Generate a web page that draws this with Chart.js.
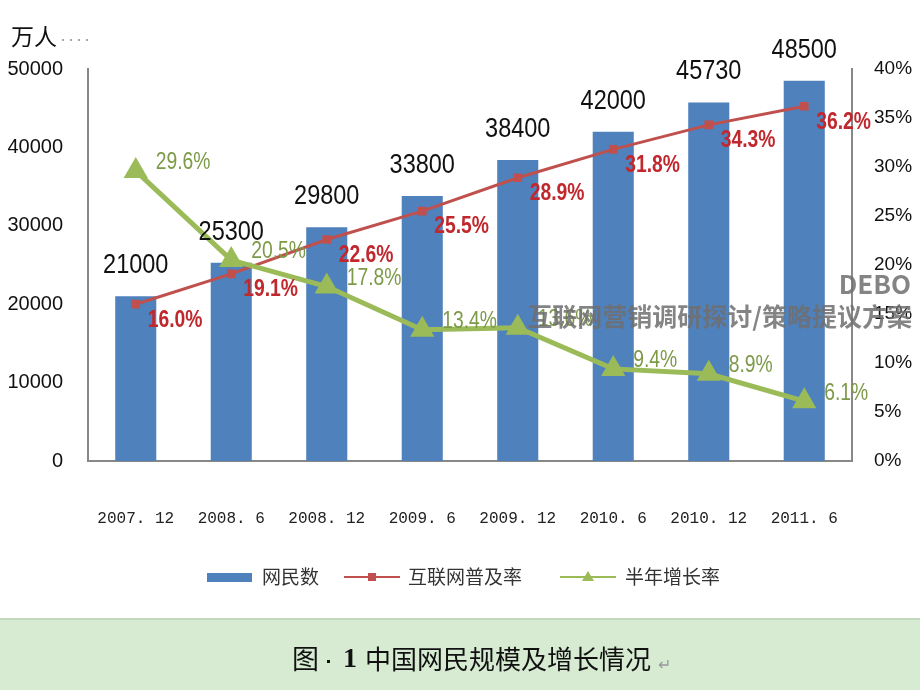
<!DOCTYPE html>
<html>
<head>
<meta charset="utf-8">
<script src="https://cdn.jsdelivr.net/npm/chart.js@4"></script>
<style>
  html, body { margin: 0; padding: 0; background: #fff; }
  #wrap { width: 920px; height: 690px; position: relative; }
</style>
</head>
<body>
<div id="wrap"><canvas id="netChart" width="920" height="690"></canvas></div>
<script>
// data
const periods = ['2007.12', '2008.6', '2008.12', '2009.6', '2009.12', '2010.6', '2010.12', '2011.6'];
const netizens = [21000, 25300, 29800, 33800, 38400, 42000, 45730, 48500];
const penetration = [16.0, 19.1, 22.6, 25.5, 28.9, 31.8, 34.3, 36.2];
const halfYearGrowth = [29.6, 20.5, 17.8, 13.4, 13.6, 9.4, 8.9, 6.1];
const leftTicks = [0, 10000, 20000, 30000, 40000, 50000];
const rightTicks = [0, 5, 10, 15, 20, 25, 30, 35, 40];

const SANS = "'Liberation Sans', Arial, sans-serif";
const CJK = "'Noto Sans CJK SC', 'Noto Sans', sans-serif";

const BLUE = '#4f81bd';
const RED = '#c0504d';
const GREEN = '#9bbb59';

// draws narrow-looking text by squeezing it horizontally
function narrowText(ctx, text, x, y, align) {
    const sx = 0.84;
    ctx.save();
    ctx.translate(x, y);
    ctx.scale(sx, 1);
    ctx.textAlign = align;
    ctx.fillText(text, 0, 0);
    ctx.restore();
}

// value labels next to bars and points
const valueLabels = {
    id: 'valueLabels',
    afterDatasetsDraw(chart) {
        const ctx = chart.ctx;
        ctx.save();
        chart.data.datasets.forEach((ds, i) => {
            const meta = chart.getDatasetMeta(i);
            if (meta.hidden) return;
            meta.data.forEach((el, idx) => {
                const v = ds.data[idx];
                if (ds.type === 'bar') {
                    ctx.font = '28px ' + SANS;
                    ctx.fillStyle = '#111';
                    ctx.textBaseline = 'alphabetic';
                    narrowText(ctx, String(v), el.x, el.y - 23, 'center');
                } else if (ds.order === 2) {
                    ctx.font = 'bold 23px ' + SANS;
                    ctx.fillStyle = '#c0282d';
                    ctx.textBaseline = 'middle';
                    narrowText(ctx, v.toFixed(1) + '%', el.x + 12, el.y + 16, 'left');
                } else {
                    ctx.font = '23px ' + SANS;
                    ctx.fillStyle = '#7d9a48';
                    ctx.textBaseline = 'middle';
                    narrowText(ctx, v.toFixed(1) + '%', el.x + 20, el.y - 8, 'left');
                }
            });
        });
        ctx.restore();
    }
};

// page furniture: unit label, legend, caption band, watermark text
const decor = {
    id: 'decor',
    beforeDraw(chart) {
        const ctx = chart.ctx;
        ctx.save();
        ctx.fillStyle = '#fff';
        ctx.fillRect(0, 0, 920, 690);
        ctx.fillStyle = '#d6ebd2';
        ctx.fillRect(0, 619, 920, 71);
        ctx.fillStyle = '#c3d9be';
        ctx.fillRect(0, 618, 920, 2);
        ctx.restore();
    },
    afterDraw(chart) {
        const ctx = chart.ctx;
        ctx.save();
        // unit
        ctx.fillStyle = '#111';
        ctx.font = '23px ' + CJK;
        ctx.textAlign = 'left';
        ctx.textBaseline = 'middle';
        ctx.fillText('万人', 11, 36);
        ctx.fillStyle = '#aaa';
        for (let k = 0; k < 4; k++) ctx.fillRect(62 + k * 8, 39, 2, 2);

        // legend
        const ly = 577;
        ctx.font = '19px ' + CJK;
        ctx.textBaseline = 'middle';
        ctx.fillStyle = BLUE;
        ctx.fillRect(207, ly - 4, 45, 9);
        ctx.fillStyle = '#333';
        ctx.fillText(chart.data.datasets[2].label, 262, ly);

        ctx.strokeStyle = RED; ctx.lineWidth = 2;
        ctx.beginPath(); ctx.moveTo(344, ly); ctx.lineTo(400, ly); ctx.stroke();
        ctx.fillStyle = RED;
        ctx.fillRect(368, ly - 4, 8, 8);
        ctx.fillStyle = '#333';
        ctx.fillText(chart.data.datasets[1].label, 408, ly);

        ctx.strokeStyle = GREEN; ctx.lineWidth = 2;
        ctx.beginPath(); ctx.moveTo(560, ly); ctx.lineTo(616, ly); ctx.stroke();
        ctx.fillStyle = GREEN;
        ctx.beginPath(); ctx.moveTo(588, ly - 6); ctx.lineTo(594, ly + 4); ctx.lineTo(582, ly + 4); ctx.closePath(); ctx.fill();
        ctx.fillStyle = '#333';
        ctx.fillText(chart.data.datasets[0].label, 625, ly);

        // caption
        ctx.fillStyle = '#111';
        ctx.font = '27px ' + CJK;
        ctx.textAlign = 'left';
        ctx.fillText('图', 292, 659);
        ctx.fillRect(327, 660, 3, 3);
        ctx.font = 'bold 28px ' + "'Liberation Serif', serif";
        ctx.fillText('1', 343, 660);
        ctx.font = '26px ' + CJK;
        ctx.fillText('中国网民规模及增长情况', 365, 659);
        ctx.fillStyle = '#999';
        ctx.font = '16px ' + CJK;
        ctx.fillText('↵', 658, 664);

        // watermark
        ctx.fillStyle = 'rgba(110,110,110,0.85)';
        ctx.textAlign = 'right';
        ctx.font = 'bold 26px ' + CJK;
        ctx.fillText('DEBO', 911, 284);
        ctx.font = 'bold 25px ' + CJK;
        ctx.fillText('互联网营销调研探讨/策略提议方案', 912, 316);
        ctx.restore();
    }
};

new Chart(document.getElementById('netChart').getContext('2d'), {
    data: {
        labels: periods,
        datasets: [
            {
                type: 'line',
                label: '半年增长率',
                data: halfYearGrowth,
                yAxisID: 'y1',
                order: 1,
                borderColor: GREEN,
                backgroundColor: GREEN,
                borderWidth: 5,
                pointStyle: 'triangle',
                pointRadius: 9,
                tension: 0,
            },
            {
                type: 'line',
                label: '互联网普及率',
                data: penetration,
                yAxisID: 'y1',
                order: 2,
                borderColor: RED,
                backgroundColor: RED,
                borderWidth: 3,
                pointStyle: 'rect',
                pointRadius: 4,
                tension: 0,
            },
            {
                type: 'bar',
                label: '网民数',
                data: netizens,
                yAxisID: 'y',
                order: 3,
                backgroundColor: BLUE,
                categoryPercentage: 1,
                barPercentage: 0.43,
            },
        ],
    },
    options: {
        responsive: false,
        animation: false,
        layout: { padding: { top: 69, left: 0, right: 0, bottom: 0 } },
        plugins: {
            legend: { display: false },
            tooltip: { enabled: false },
        },
        scales: {
            x: {
                offset: true,
                grid: { display: false },
                border: { display: true, color: '#888', width: 2 },
                ticks: {
                    color: '#222',
                    padding: 40,
                    maxRotation: 0,
                    font: { family: "'Liberation Mono', 'DejaVu Sans Mono', monospace", size: 16 },
                    callback: (v, i) => periods[i].replace('.', '. '),
                },
                afterFit: (s) => { s.height = 229; },
            },
            y: {
                position: 'left',
                min: leftTicks[0],
                max: leftTicks[leftTicks.length - 1],
                grid: { display: false },
                border: { display: true, color: '#888', width: 2 },
                afterBuildTicks: (s) => { s.ticks = leftTicks.map(v => ({ value: v })); },
                ticks: {
                    color: '#111',
                    padding: 17,
                    font: { family: SANS, size: 20 },
                    callback: (v) => String(v),
                },
                afterFit: (s) => { s.width = 88; },
            },
            y1: {
                position: 'right',
                min: rightTicks[0],
                max: rightTicks[rightTicks.length - 1],
                grid: { display: false },
                border: { display: true, color: '#888', width: 2 },
                afterBuildTicks: (s) => { s.ticks = rightTicks.map(v => ({ value: v })); },
                ticks: {
                    color: '#111',
                    padding: 14,
                    font: { family: SANS, size: 19 },
                    callback: (v) => v + '%',
                },
                afterFit: (s) => { s.width = 68; },
            },
        },
    },
    plugins: [decor, valueLabels],
});
</script>
</body>
</html>
